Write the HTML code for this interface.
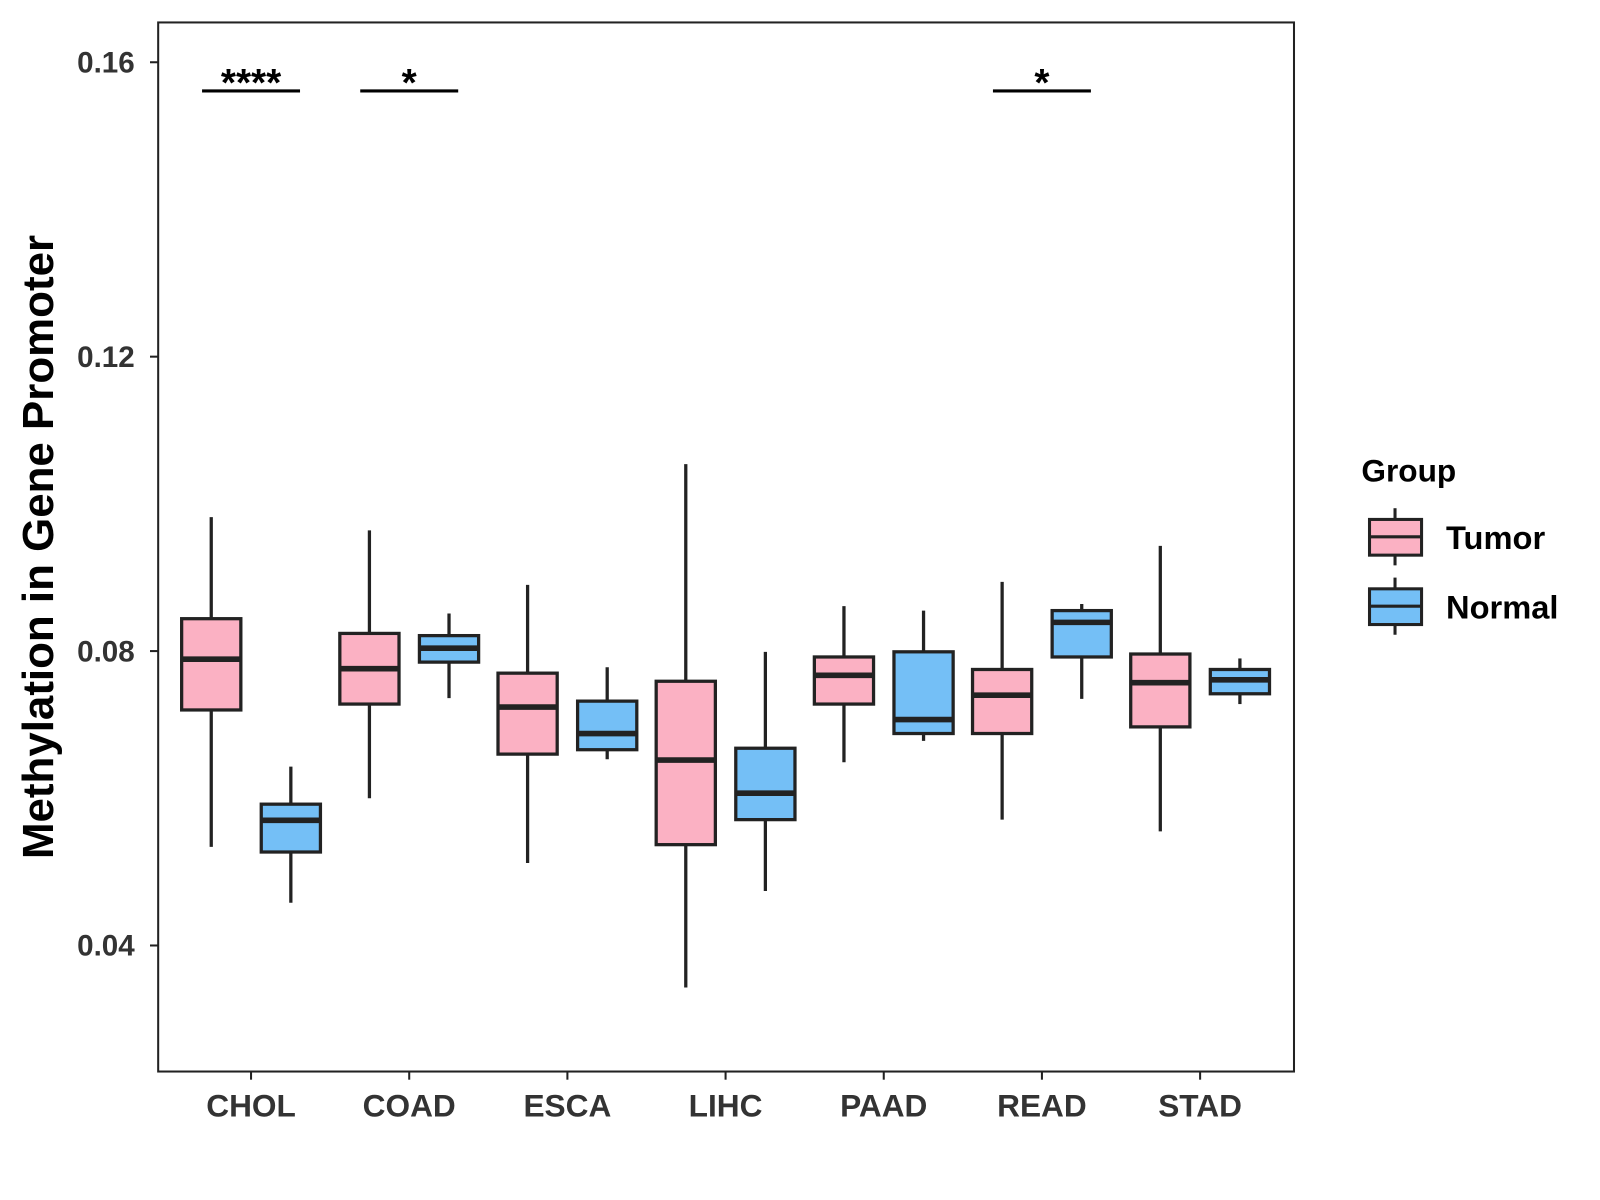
<!DOCTYPE html>
<html><head><meta charset="utf-8"><style>
body{margin:0;background:#fff}
svg{display:block;font-family:"Liberation Sans",Arial,sans-serif}
</style></head><body>
<svg id="chart" width="1600" height="1200" viewBox="0 0 1600 1200">
<rect x="0" y="0" width="1600" height="1200" fill="#fff"/>
<g transform="scale(1.0205)">
<rect x="155" y="22" width="1113" height="1028" fill="none" stroke="#222" stroke-width="2"/>
<g id="marks"></g>
<text transform="translate(52,536) rotate(-90)" text-anchor="middle" font-size="43" font-weight="bold">Methylation in Gene Promoter</text>
<g>
<text x="1334" y="472" font-size="31" font-weight="bold">Group</text>
<g>
<line x1="1367" y1="498" x2="1367" y2="554" stroke="#222" stroke-width="3"/>
<rect x="1342" y="509" width="51" height="35" fill="#FBB1C3" stroke="#222" stroke-width="3"/>
<line x1="1342" y1="526" x2="1393" y2="526" stroke="#222" stroke-width="3"/>
<text x="1417" y="538" font-size="32" font-weight="bold">Tumor</text></g>
<g>
<line x1="1367" y1="566" x2="1367" y2="622" stroke="#222" stroke-width="3"/>
<rect x="1342" y="577" width="51" height="35" fill="#74BFF6" stroke="#222" stroke-width="3"/>
<line x1="1342" y1="594" x2="1393" y2="594" stroke="#222" stroke-width="3"/>
<text x="1417" y="606" font-size="32" font-weight="bold">Normal</text></g>
</g>
</g>
</svg>
<script>
const categories=["CHOL","COAD","ESCA","LIHC","PAAD","READ","STAD"];
const tumorStats=[[0.0534,0.0720,0.0789,0.0844,0.0982],[0.0600,0.0728,0.0776,0.0824,0.0964],[0.0512,0.0660,0.0724,0.0770,0.0890],[0.0343,0.0537,0.0652,0.0759,0.1054],[0.0649,0.0728,0.0767,0.0792,0.0861],[0.0571,0.0688,0.0740,0.0775,0.0894],[0.0555,0.0697,0.0757,0.0796,0.0943]];
const normalStats=[[0.0458,0.0527,0.0570,0.0592,0.0643],[0.0736,0.0785,0.0804,0.0821,0.0851],[0.0653,0.0666,0.0688,0.0732,0.0778],[0.0474,0.0571,0.0607,0.0668,0.0799],[0.0678,0.0688,0.0707,0.0799,0.0855],[0.0735,0.0792,0.0839,0.0855,0.0864],[0.0728,0.0742,0.0761,0.0775,0.0790]];
const yTicks=[0.04,0.08,0.12,0.16];
const yTickLabels=["0.04","0.08","0.12","0.16"];
const sigCategories=["CHOL","COAD","READ"];
const sigLabels=["****","*","*"];
const sigLevel=0.1561;

const NS="http://www.w3.org/2000/svg";
const g=document.getElementById("marks");
function y(v){return 61+(0.16-v)*7212.5;}
function x(i){return 246+i*155;}
function mk(tag,attrs,parent){const e=document.createElementNS(NS,tag);for(const k in attrs)e.setAttribute(k,attrs[k]);(parent||g).appendChild(e);return e;}

yTicks.forEach((t,i)=>{
  const l=mk("line",{x1:147,x2:155,y1:y(t),y2:y(t),stroke:"#222","stroke-width":2});
  
  
  const tx=mk("text",{x:132,y:y(t)+10,"text-anchor":"end","font-size":29,"font-weight":"bold",fill:"#333"});
  tx.textContent=yTickLabels[i];
  
  
});
categories.forEach((c,i)=>{
  const l=mk("line",{x1:x(i),x2:x(i),y1:1050,y2:1058,stroke:"#222","stroke-width":2});
  
  
  const tx=mk("text",{x:x(i),y:1094,"text-anchor":"middle","font-size":31,"font-weight":"bold",fill:"#333"});
  tx.textContent=c;
  
  
});
function box(cx,s,fill,name){
  const grp=mk("g",{});
  
  
  mk("line",{x1:cx,x2:cx,y1:y(s[4]),y2:y(s[0]),stroke:"#222","stroke-width":3.2},grp);
  mk("rect",{x:cx-29,y:y(s[3]),width:58,height:y(s[1])-y(s[3]),fill:fill,stroke:"#222","stroke-width":3.2},grp);
  mk("line",{x1:cx-29,x2:cx+29,y1:y(s[2]),y2:y(s[2]),stroke:"#222","stroke-width":5.5},grp);
}
categories.forEach((c,i)=>{
  box(x(i)-39,tumorStats[i],"#FBB1C3","box-tumor-"+c.toLowerCase());
  box(x(i)+39,normalStats[i],"#74BFF6","box-normal-"+c.toLowerCase());
});
sigCategories.forEach((c,k)=>{
  const i=categories.indexOf(c);
  const l=mk("line",{x1:x(i)-48,x2:x(i)+48,y1:y(sigLevel),y2:y(sigLevel),stroke:"#000","stroke-width":3});
  
  
  const tx=mk("text",{x:x(i),y:y(sigLevel)+5,"text-anchor":"middle","font-size":38,"font-weight":"bold"});
  tx.textContent=sigLabels[k];
  
  
});
</script>
</body></html>
